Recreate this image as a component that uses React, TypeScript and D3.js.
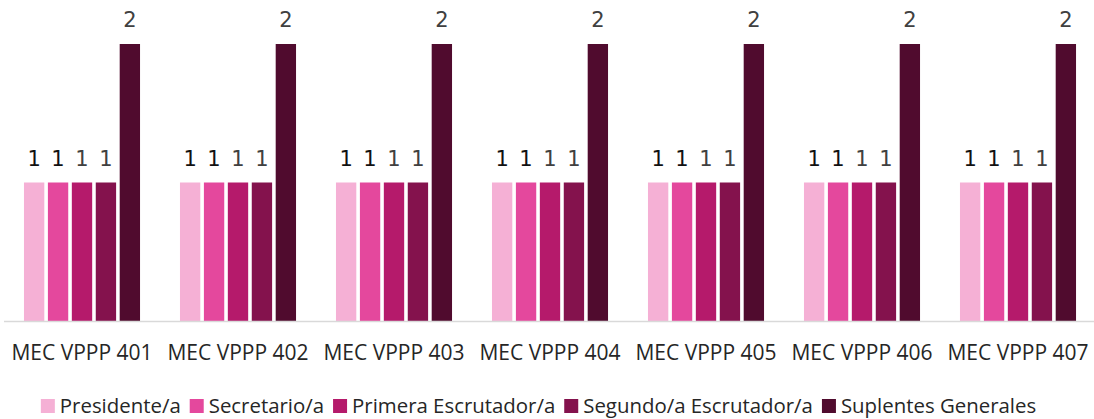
import React, { useEffect, useRef } from "react";
import * as d3 from "d3";

const categories = ["MEC VPPP 401", "MEC VPPP 402", "MEC VPPP 403", "MEC VPPP 404", "MEC VPPP 405", "MEC VPPP 406", "MEC VPPP 407"];
const seriesNames = ["Presidente/a", "Secretario/a", "Primera Escrutador/a", "Segundo/a Escrutador/a", "Suplentes Generales"];
const seriesColors = ["#F5B0D5", "#E4489D", "#B51A6B", "#84124D", "#500B2E"];
const labelColors = ["#111111", "#111111", "#404040", "#404040", "#404040"];
const presidente = [1, 1, 1, 1, 1, 1, 1];
const secretario = [1, 1, 1, 1, 1, 1, 1];
const primera = [1, 1, 1, 1, 1, 1, 1];
const segundo = [1, 1, 1, 1, 1, 1, 1];
const suplentes = [2, 2, 2, 2, 2, 2, 2];
const seriesValues = [presidente, secretario, primera, segundo, suplentes];

const W = 1094;
const H = 419;
const FONT = "'Open Sans', sans-serif";

export default function App() {
  const ref = useRef<SVGSVGElement>(null);
  useEffect(() => {
    const svg = d3.select(ref.current);
    svg.selectAll("*").remove();
    const x0 = d3.scaleBand<string>().domain(categories).range([4, 1096]).paddingInner(0.256).paddingOuter(0.128);
    const x1 = d3.scaleBand<string>().domain(seriesNames).range([0, x0.bandwidth()]).paddingInner(0.15);
    const y = d3.scaleLinear().domain([0, 2]).range([321, 44]);

    const groups = svg.selectAll("g.grp").data(categories).enter().append("g")
      .attr("transform", (d) => `translate(${x0(d)},0)`);
    seriesNames.forEach((s, si) => {
      groups.append("rect")
        .attr("x", x1(s)!)
        .attr("width", x1.bandwidth())
        .attr("y", (_d, i) => y(seriesValues[si][i]))
        .attr("height", (_d, i) => y(0) - y(seriesValues[si][i]))
        .attr("fill", seriesColors[si]);
      groups.append("text")
        .attr("x", x1(s)! + x1.bandwidth() / 2)
        .attr("y", (_d, i) => y(seriesValues[si][i]) - 17)
        .attr("text-anchor", "middle")
        .attr("font-family", "'DejaVu Sans', sans-serif")
        .attr("font-size", 21)
        .attr("fill", labelColors[si])
        .text((_d, i) => String(seriesValues[si][i]));
    });

    svg.append("line").attr("x1", 4).attr("x2", W).attr("y1", 321.5).attr("y2", 321.5)
      .attr("stroke", "#D9D9D9").attr("stroke-width", 1.5);

    const xAxis = d3.axisBottom(x0).tickSize(0).tickPadding(0);
    const ax = svg.append("g").attr("transform", "translate(0,321)").call(xAxis);
    ax.select(".domain").remove();
    ax.selectAll("text").attr("font-family", FONT).attr("font-size", 21).attr("fill", "#262626")
      .attr("dy", null).attr("y", 39);

    const leg = svg.append("g");
    const items: { g: any; w: number }[] = [];
    seriesNames.forEach((s, i) => {
      const g = leg.append("g");
      g.append("rect").attr("x", 0).attr("y", 399).attr("width", 14).attr("height", 14).attr("fill", seriesColors[i]);
      const t = g.append("text").attr("x", 19).attr("y", 413).attr("font-family", FONT).attr("font-size", 20.4)
        .attr("fill", "#262626").text(s);
      const tw = (t.node() as SVGTextElement).getComputedTextLength();
      items.push({ g, w: 19 + tw });
    });
    const gap = 9;
    const total = d3.sum(items, (d) => d.w) + gap * (items.length - 1);
    let cx = (W - total) / 2 - 8.5;
    items.forEach((it) => {
      it.g.attr("transform", `translate(${cx},0)`);
      cx += it.w + gap;
    });
  }, []);
  return <svg ref={ref} width={W} height={H} style={{ display: "block", position: "absolute", left: 0, top: 0 }} />;
}
